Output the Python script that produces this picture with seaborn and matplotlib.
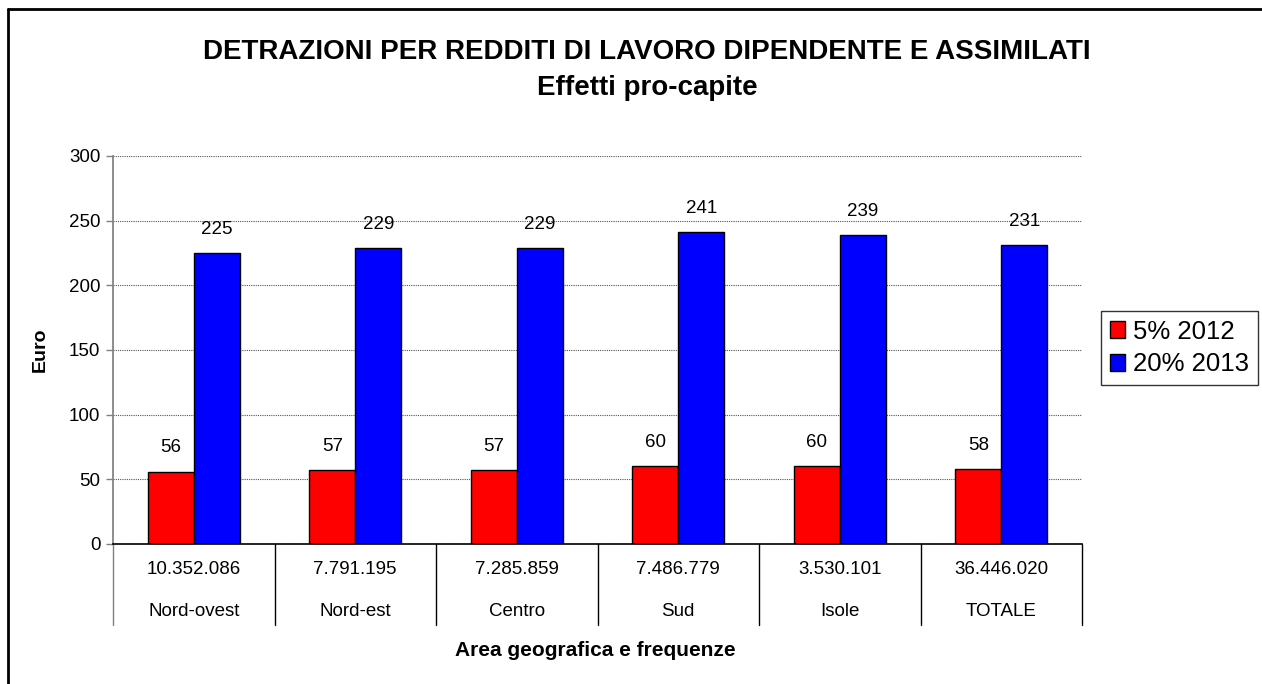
import pandas as pd
import matplotlib
matplotlib.use('Agg')
import matplotlib.pyplot as plt
from matplotlib.lines import Line2D
import seaborn as sns

aree = ['Nord-ovest', 'Nord-est', 'Centro', 'Sud', 'Isole', 'TOTALE']
frequenze = ['10.352.086', '7.791.195', '7.285.859', '7.486.779', '3.530.101', '36.446.020']
serie = ['5% 2012', '20% 2013']
val_2012 = [56, 57, 57, 60, 60, 58]
val_2013 = [225, 229, 229, 241, 239, 231]
colori = ['#ff0000', '#0000ff']

dati = pd.DataFrame({
    'area': aree * 2,
    'serie': [serie[0]] * len(aree) + [serie[1]] * len(aree),
    'euro': val_2012 + val_2013,
})

sns.set_theme(style='white')
plt.rcParams['font.family'] = ['Liberation Sans', 'DejaVu Sans']
plt.rcParams['text.color'] = 'black'
plt.rcParams['axes.labelcolor'] = 'black'
plt.rcParams['ytick.color'] = 'black'
plt.rcParams['xtick.color'] = 'black'

fig = plt.figure(figsize=(12.62, 6.84), dpi=100)
ax = fig.add_axes([113 / 1262, 1 - 544 / 684, (1082 - 113) / 1262, (544 - 156) / 684])

sns.barplot(data=dati, x='area', y='euro', hue='serie', order=aree, hue_order=serie,
            palette=colori, width=0.57, edgecolor='black', linewidth=1, saturation=1, ax=ax)

for cont in ax.containers:
    ax.bar_label(cont, fmt='%d', padding=11, fontsize=13.5, color='black')

ax.set_ylim(0, 300)
ax.set_xlim(-0.5, len(aree) - 0.5)
ax.set_yticks(range(0, 301, 50))
ax.tick_params(axis='y', labelsize=13.5, length=5, width=1, color='#808080', labelcolor='black',
               left=True, pad=4)
ax.tick_params(axis='x', bottom=False, labelbottom=False)
ax.yaxis.grid(True, linestyle=(0, (1, 1)), color='#555555', linewidth=0.8)
ax.set_axisbelow(True)
for s in ['top', 'right']:
    ax.spines[s].set_visible(False)
ax.spines['left'].set_color('#808080')
ax.spines['bottom'].set_color('black')
ax.spines['bottom'].set_linewidth(1.2)
ax.set_xlabel('')
ax.set_ylabel('')

# tabella categorie sotto l'asse
tr = ax.get_xaxis_transform()
for i, (a, f) in enumerate(zip(aree, frequenze)):
    ax.text(i, -0.067, f, transform=tr, ha='center', va='center', fontsize=13.5)
    ax.text(i, -0.173, a, transform=tr, ha='center', va='center', fontsize=13.5)
for i in range(len(aree) + 1):
    col = '#808080' if i == 0 else 'black'
    ax.add_line(Line2D([i - 0.5, i - 0.5], [0, -0.209], transform=tr, color=col,
                       linewidth=1, clip_on=False))

ax.legend_.remove()
handles = [plt.Rectangle((0, 0), 1, 1, facecolor=c, edgecolor='black', linewidth=1) for c in colori]
leg = fig.legend(handles, serie, loc='center left', bbox_to_anchor=(1101 / 1262, 1 - 348 / 684),
                 fontsize=18.5, frameon=True, fancybox=False, handlelength=0.6, handleheight=0.6,
                 handletextpad=0.3, borderpad=0.35, labelspacing=0.35, borderaxespad=0)
leg.get_frame().set_edgecolor('black')
leg.get_frame().set_linewidth(1)

fig.text(647 / 1262, 1 - 52 / 684, 'DETRAZIONI PER REDDITI DI LAVORO DIPENDENTE E ASSIMILATI',
         ha='center', va='center', fontsize=20, fontweight='bold')
fig.text(647 / 1262, 1 - 88 / 684, 'Effetti pro-capite', ha='center', va='center',
         fontsize=20, fontweight='bold')
fig.text(595 / 1262, 1 - 650 / 684, 'Area geografica e frequenze', ha='center', va='center',
         fontsize=15, fontweight='bold')
fig.text(40 / 1262, 1 - 350 / 684, 'Euro', ha='center', va='center', rotation=90,
         fontsize=14, fontweight='bold')

# bordo del grafico
fig.add_artist(Line2D([8 / 1262, 8 / 1262], [0, 1 - 9 / 684], color='black', linewidth=2,
                      transform=fig.transFigure))
fig.add_artist(Line2D([8 / 1262, 1], [1 - 9 / 684, 1 - 9 / 684], color='black', linewidth=2,
                      transform=fig.transFigure))

fig.savefig('out.png', dpi=100)
